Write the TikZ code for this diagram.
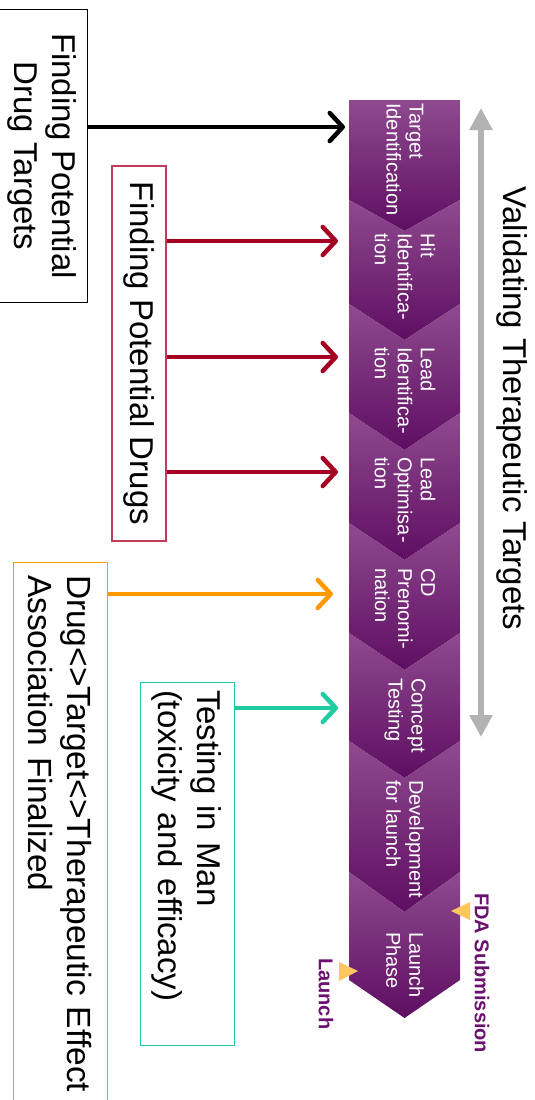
\documentclass[tikz,border=0pt]{standalone}
\usepackage{fontspec}
\setmainfont{Liberation Sans}
\usetikzlibrary{arrows.meta}

\definecolor{chevlight}{RGB}{143,74,143}
\definecolor{chevdark}{RGB}{94,14,98}
\definecolor{drugred}{RGB}{165,0,33}
\definecolor{drugredbox}{RGB}{192,60,90}
\definecolor{assocorange}{RGB}{255,153,0}
\definecolor{testgreen}{RGB}{30,205,160}
\definecolor{validgray}{RGB}{178,178,178}
\definecolor{markyellow}{RGB}{255,198,95}
\definecolor{labelpurple}{RGB}{106,16,110}

\newcommand{\bigfont}{\fontsize{33}{38}\selectfont}
\newcommand{\chevfont}{\fontsize{20}{23}\selectfont}

\tikzset{
  chevron/.style={top color=chevlight, bottom color=chevdark, draw=none},
  chevtext/.style={rotate=-90, anchor=west, text=white, font=\chevfont,
    align=left, inner sep=0pt},
  bigbox/.style={rotate=-90, font=\bigfont, inner sep=0pt},
  pointer/.style={line width=4.5pt,
    -{Straight Barb[length=13pt, width=28pt, round]}},
  milestone/.style={rotate=-90, anchor=west, text=labelpurple,
    font=\fontsize{20}{23}\selectfont\bfseries, inner sep=0pt},
}

\begin{document}
\begin{tikzpicture}[x=1pt, y=-1pt]
\useasboundingbox (0,0) rectangle (535,1100);

% stage chevrons
\shade[chevron] (349,100) -- (460,100) -- (460,200) -- (404.5,231) -- (349,200) -- cycle;
\shade[chevron] (349,200) -- (404.5,231) -- (460,200) -- (460,304) -- (404.5,340) -- (349,304) -- cycle;
\shade[chevron] (349,304) -- (404.5,340) -- (460,304) -- (460,413) -- (404.5,450) -- (349,413) -- cycle;
\shade[chevron] (349,413) -- (404.5,450) -- (460,413) -- (460,523) -- (404.5,560) -- (349,523) -- cycle;
\shade[chevron] (349,523) -- (404.5,560) -- (460,523) -- (460,633) -- (404.5,670) -- (349,633) -- cycle;
\shade[chevron] (349,633) -- (404.5,670) -- (460,633) -- (460,741) -- (404.5,778) -- (349,741) -- cycle;
\shade[chevron] (349,741) -- (404.5,778) -- (460,741) -- (460,872) -- (404.5,912) -- (349,872) -- cycle;
\shade[chevron] (349,872) -- (404.5,912) -- (460,872) -- (460,980) -- (404.5,1018) -- (349,980) -- cycle;

% stage labels
\node[chevtext] (c1) at (405,103) {Target\\Identification};
\node[chevtext] (c2) at (405,233) {Hit\\Identifica-\\tion};
\node[chevtext] (c3) at (405,347) {Lead\\Identifica-\\tion};
\node[chevtext] (c4) at (405,457) {Lead\\Optimisa-\\tion};
\node[chevtext] (c5) at (405,568) {CD\\Prenomi-\\nation};
\node[chevtext] (c6) at (405,678) {Concept\\Testing};
\node[chevtext] (c7) at (405,780) {Development\\for launch};
\node[chevtext] (c8) at (405,932) {Launch\\Phase};

% validation span
\coordinate (vtop) at (481,108);
\coordinate (vbot) at (481,737);
\draw[validgray, line width=6pt,
  {Triangle[length=22pt, width=22pt]}-{Triangle[length=22pt, width=22pt]}]
  (vtop) -- (vbot);
\node[bigbox] (valid) at (512,408.5) {Validating Therapeutic Targets};

% milestones
\fill[markyellow] (451,911) -- (470,902) -- (470,920) -- cycle;
\node[milestone] (fda) at (482,893) {FDA Submission};
\fill[markyellow] (358,971) -- (339,962) -- (339,981) -- cycle;
\node[milestone] (launch) at (326,958) {Launch};

% activity boxes
\node[bigbox, draw=black, line width=1.2pt, align=center,
  minimum width=293pt, minimum height=90pt] (targets) at (42.5,156)
  {Finding Potential\\Drug Targets};
\node[bigbox, draw=drugredbox, line width=1.2pt, align=center,
  minimum width=375pt, minimum height=54pt] (drugs) at (139,353.5)
  {Finding Potential Drugs};
\node[bigbox, draw=assocorange, line width=1pt, align=left,
  text width=527pt, inner xsep=13pt, minimum height=94pt,
  font=\fontsize{33.5}{39}\selectfont] (assoc) at (60,838.5)
  {Drug<>Target<>Therapeutic Effect\\Association Finalized};
\node[bigbox, draw=testgreen, line width=1pt, align=left,
  text width=347pt, inner xsep=8pt, minimum height=94pt,
  font=\fontsize{33}{39}\selectfont] (testing) at (187,863.5)
  {Testing in Man\\(toxicity and efficacy)};

% pointers into the stages
\coordinate (t1) at (345,127);
\coordinate (r1) at (338,241);
\coordinate (r2) at (338,357);
\coordinate (r3) at (338,472);
\coordinate (o1) at (333,594);
\coordinate (g1) at (338,708);
\draw[pointer, black] (targets.north |- t1) -- (t1);
\draw[pointer, drugred] (drugs.north |- r1) -- (r1);
\draw[pointer, drugred] (drugs.north |- r2) -- (r2);
\draw[pointer, drugred] (drugs.north |- r3) -- (r3);
\draw[pointer, assocorange] (assoc.north |- o1) -- (o1);
\draw[pointer, testgreen] (testing.north |- g1) -- (g1);
\end{tikzpicture}
\end{document}
